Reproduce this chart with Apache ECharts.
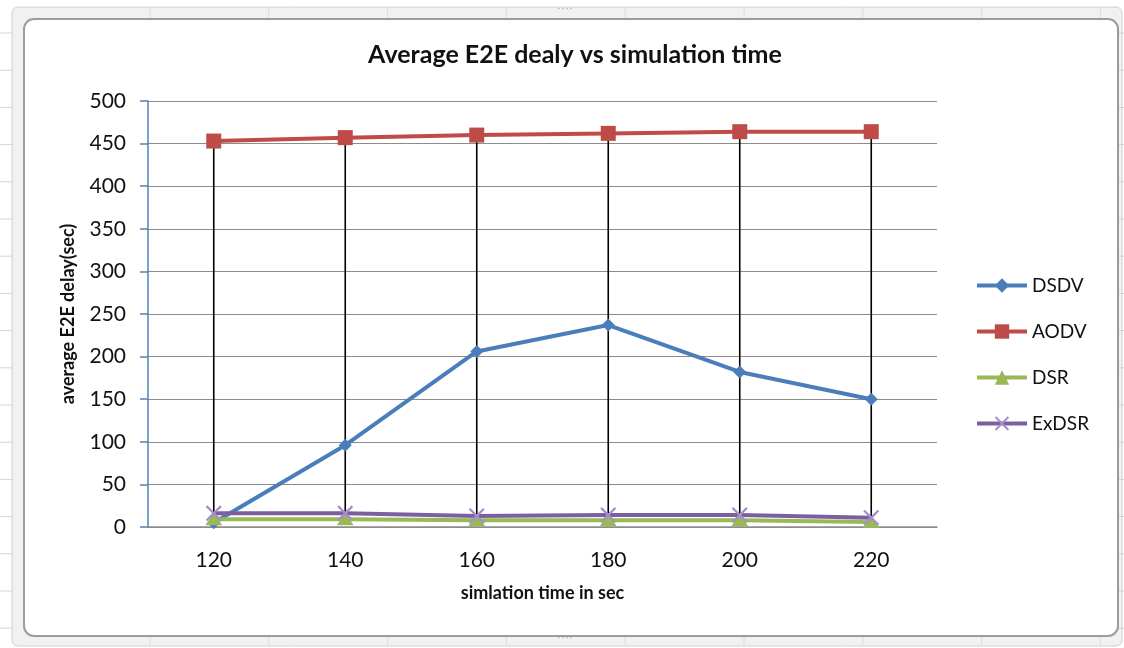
<!DOCTYPE html>
<html>
<head>
<meta charset="utf-8">
<script src="https://cdn.jsdelivr.net/npm/echarts@6/dist/echarts.min.js"></script>
<style>
  html, body { margin: 0; padding: 0; background: #ffffff; }
  #chart { width: 1124px; height: 648px; }
</style>
</head>
<body>
<div id="chart"></div>
<script>
// Simulation times (x axis categories)
const categories = ['120', '140', '160', '180', '200', '220'];

// Average end-to-end delay per protocol (sec)
const dsdv  = [5, 96, 206, 237, 182, 150];
const aodv  = [453, 457, 460, 462, 464, 464];
const dsr   = [9, 9, 8, 8, 8, 6];
const exdsr = [16, 16, 13, 14, 14, 11];

const yTicks = { min: 0, max: 500, interval: 50 };

const FONT = 'Lato, "Open Sans", "Liberation Sans", sans-serif';
const C_DSDV = '#4A7EBB', C_AODV = '#BE4B48', C_DSR = '#98B954', C_EXDSR = '#7D5FA0';

// X-shaped marker built as a filled outline
const crossPath = 'path://M0,1L1,0L5,4L9,0L10,1L6,5L10,9L9,10L5,6L1,10L0,9L4,5Z';

// High-low line extent for every category, from the series values
const allSeries = [dsdv, aodv, dsr, exdsr];
const hiLow = categories.map((c, i) => {
  const vals = allSeries.map(s => s[i]);
  return [i, Math.min.apply(null, vals), Math.max.apply(null, vals)];
});

// Spreadsheet cell lines around the chart frame
const sheetLines = [];
for (let y = 33; y < 648; y += 37.2) {
  sheetLines.push({ type: 'line', shape: { x1: 0, y1: y, x2: 12, y2: y }, style: { stroke: '#d4d4d4', lineWidth: 1 }, silent: true });
  sheetLines.push({ type: 'line', shape: { x1: 1118, y1: y, x2: 1124, y2: y }, style: { stroke: '#d4d4d4', lineWidth: 1 }, silent: true });
}
for (let x = 150; x < 1124; x += 118.8) {
  sheetLines.push({ type: 'line', shape: { x1: x, y1: 7, x2: x, y2: 19 }, style: { stroke: '#dcdcdc', lineWidth: 1 }, silent: true });
  sheetLines.push({ type: 'line', shape: { x1: x, y1: 636, x2: x, y2: 646 }, style: { stroke: '#dcdcdc', lineWidth: 1 }, silent: true });
}

const chart = echarts.init(document.getElementById('chart'));
chart.setOption({
  animation: false,
  backgroundColor: '#ffffff',
  graphic: [
    { type: 'rect', z: -10, shape: { x: 12, y: 7, width: 1110, height: 639, r: 6 },
      style: { fill: '#f1f1f1', stroke: '#d0d0d0', lineWidth: 1 }, silent: true },
    ...sheetLines.map(l => Object.assign(l, { z: -9 })),
    { type: 'rect', z: -8, shape: { x: 24, y: 19, width: 1094, height: 617, r: 10 },
      style: { fill: '#ffffff', stroke: '#9c9c9c', lineWidth: 2 }, silent: true },
    { type: 'text', z: -7, left: 557, top: 3, style: { text: '····', fill: '#a8a8a8', font: '12px sans-serif' }, silent: true },
    { type: 'text', z: -7, left: 557, top: 632, style: { text: '····', fill: '#a8a8a8', font: '12px sans-serif' }, silent: true }
  ],
  title: {
    text: 'Average E2E dealy vs simulation time',
    left: 570, top: 37, textAlign: 'center',
    textStyle: { fontFamily: FONT, fontSize: 25, fontWeight: 'bold', color: '#111111' }
  },
  legend: {
    orient: 'vertical',
    left: 975, top: 276, padding: 0,
    itemWidth: 50, itemHeight: 18, itemGap: 27,
    data: ['DSDV', 'AODV', 'DSR', 'ExDSR'],
    lineStyle: { width: 4 },
    textStyle: { fontFamily: FONT, fontSize: 19, lineHeight: 19, color: '#111111', padding: [0, 0, 0, 0] }
  },
  grid: { left: 148, right: 187, top: 101, bottom: 121 },
  xAxis: {
    type: 'category',
    data: categories,
    boundaryGap: true,
    name: 'simlation time in sec',
    nameLocation: 'middle',
    nameGap: 57,
    nameTextStyle: { fontFamily: FONT, fontSize: 18, fontWeight: 'bold', color: '#111111' },
    axisLine: { lineStyle: { color: '#8c8c8c', width: 1.5 } },
    axisTick: { show: false },
    axisLabel: { margin: 23, fontFamily: FONT, fontSize: 21, color: '#111111' }
  },
  yAxis: {
    type: 'value',
    min: yTicks.min, max: yTicks.max, interval: yTicks.interval,
    name: 'average E2E delay(sec)',
    nameLocation: 'middle',
    nameGap: 71,
    nameTextStyle: { fontFamily: FONT, fontSize: 18, fontWeight: 'bold', color: '#111111' },
    axisLine: { show: true, lineStyle: { color: '#4F81BD', width: 1.5 } },
    axisTick: { show: true, length: 8, lineStyle: { color: '#4F81BD', width: 1.5 } },
    axisLabel: { margin: 22, fontFamily: FONT, fontSize: 21, color: '#111111' },
    splitLine: { lineStyle: { color: '#8c8c8c', width: 1.2 } }
  },
  series: [
    {
      name: 'highlow', type: 'custom', z: 1, silent: true,
      data: hiLow,
      renderItem: function (params, api) {
        const lo = api.coord([api.value(0), api.value(1)]);
        const hi = api.coord([api.value(0), api.value(2)]);
        return { type: 'line', shape: { x1: lo[0], y1: lo[1], x2: hi[0], y2: hi[1] },
                 style: { stroke: '#000000', lineWidth: 1.6 } };
      }
    },
    {
      name: 'DSDV', type: 'line', z: 3, data: dsdv,
      symbol: 'diamond', symbolSize: 13,
      lineStyle: { color: C_DSDV, width: 4 },
      itemStyle: { color: C_DSDV }
    },
    {
      name: 'AODV', type: 'line', z: 3, data: aodv,
      symbol: 'rect', symbolSize: 15,
      lineStyle: { color: C_AODV, width: 4 },
      itemStyle: { color: C_AODV }
    },
    {
      name: 'DSR', type: 'line', z: 3, data: dsr,
      symbol: 'triangle', symbolSize: [17, 12],
      lineStyle: { color: C_DSR, width: 4 },
      itemStyle: { color: C_DSR }
    },
    {
      name: 'ExDSR', type: 'line', z: 4, data: exdsr,
      symbol: crossPath, symbolSize: 16,
      lineStyle: { color: C_EXDSR, width: 4 },
      itemStyle: { color: '#A58FCB' }
    }
  ]
});
</script>
</body>
</html>
